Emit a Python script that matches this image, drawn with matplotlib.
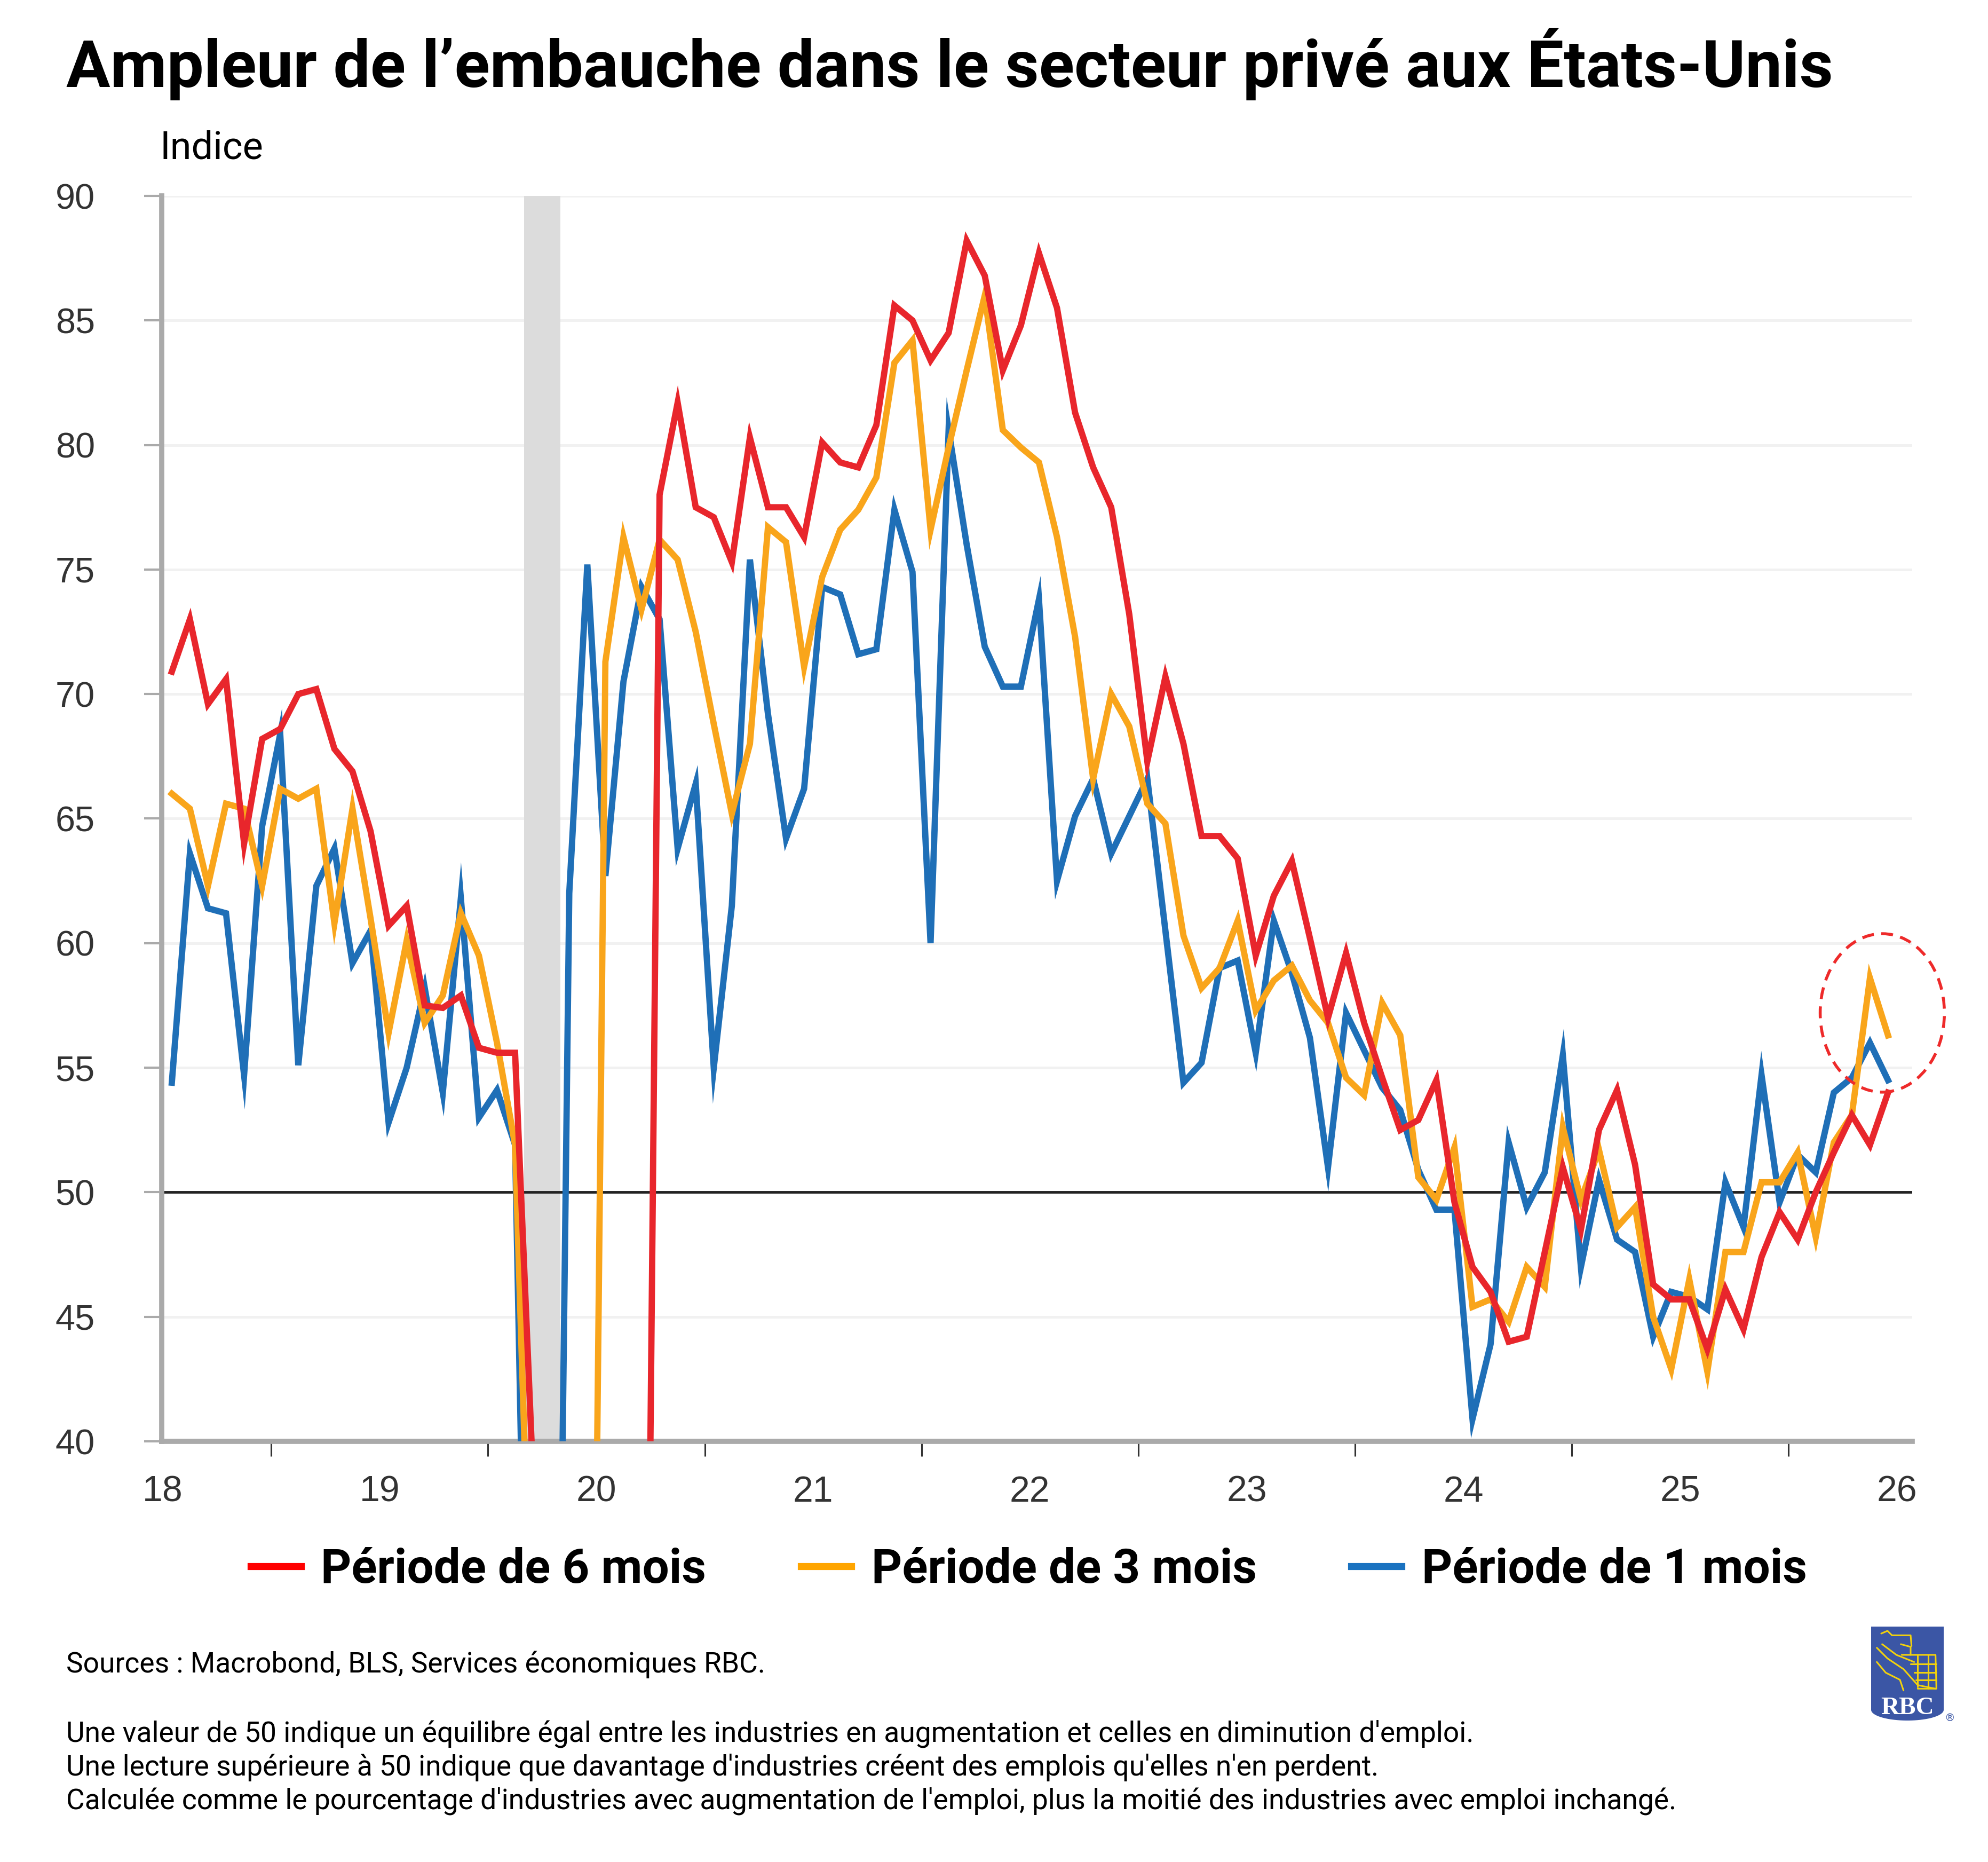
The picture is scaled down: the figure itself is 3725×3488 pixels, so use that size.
import numpy as np
import pandas as pd
import matplotlib
matplotlib.use('Agg')
import matplotlib.pyplot as plt
from matplotlib.patches import Ellipse, Polygon
from matplotlib.lines import Line2D
from matplotlib.font_manager import FontProperties

# monthly diffusion index readings, Jul 2018 -> Jun 2026
first_month = '2018-07'

six_month = [70.9, 73.0, 69.6, 70.6, 64.0, 68.2, 68.6, 70.0, 70.2, 67.8, 66.9, 64.5,
             60.7, 61.5, 57.5, 57.4, 57.9, 55.8, 55.6, 55.6, 38.5, 12.0, 8.0, 6.0,
             5.0, 4.0, 3.0, 78.0, 81.7, 77.5, 77.1, 75.3, 80.3, 77.5, 77.5, 76.3,
             80.1, 79.3, 79.1, 80.8, 85.6, 85.0, 83.4, 84.5, 88.2, 86.8, 83.0, 84.8,
             87.7, 85.5, 81.3, 79.1, 77.5, 73.2, 67.3, 70.7, 68.0, 64.3, 64.3, 63.4,
             59.5, 61.9, 63.3, 60.2, 57.0, 59.6, 56.8, 54.6, 52.5, 52.9, 54.5, 49.6,
             47.0, 46.0, 44.0, 44.2, 47.6, 51.0, 48.5, 52.5, 54.1, 51.1, 46.3, 45.7,
             45.7, 43.7, 46.1, 44.5, 47.4, 49.2, 48.1, 50.0, 51.6, 53.1, 51.9, 54.0]

three_month = [66.0, 65.4, 62.3, 65.6, 65.4, 62.3, 66.2, 65.8, 66.2, 60.8, 65.4, 61.0,
               56.4, 60.1, 56.8, 57.9, 61.2, 59.5, 56.0, 51.9, 29.0, 8.0, 4.0, 2.0,
               71.3, 76.3, 73.4, 76.2, 75.4, 72.5, 68.8, 65.2, 68.0, 76.7, 76.1, 71.1,
               74.7, 76.6, 77.4, 78.7, 83.3, 84.2, 76.6, 79.9, 83.0, 86.0, 80.6, 79.9,
               79.3, 76.3, 72.3, 66.6, 70.0, 68.7, 65.6, 64.8, 60.3, 58.2, 59.0, 60.9,
               57.3, 58.5, 59.1, 57.7, 56.8, 54.6, 53.9, 57.6, 56.3, 50.6, 49.7, 51.8,
               45.4, 45.7, 44.8, 47.0, 46.2, 52.6, 49.7, 51.7, 48.6, 49.4, 45.0, 42.9,
               46.5, 42.8, 47.6, 47.6, 50.4, 50.4, 51.6, 48.2, 52.0, 53.1, 58.6, 56.3]

one_month = [54.4, 63.6, 61.4, 61.2, 54.7, 64.7, 68.4, 55.1, 62.3, 63.8, 59.2, 60.5,
             52.8, 55.0, 58.2, 54.0, 61.8, 53.0, 54.1, 51.9, 15.0, 2.0, 62.0, 75.2,
             62.7, 70.5, 74.3, 73.0, 63.8, 66.4, 55.0, 61.5, 75.4, 69.2, 64.2, 66.2,
             74.3, 74.0, 71.6, 71.8, 77.4, 74.9, 60.0, 80.6, 76.0, 71.9, 70.3, 70.3,
             73.8, 62.5, 65.1, 66.6, 63.6, 65.1, 66.6, 60.5, 54.4, 55.2, 59.0, 59.3,
             55.6, 60.9, 58.8, 56.2, 51.0, 57.2, 55.7, 54.2, 53.3, 50.9, 49.3, 49.3,
             40.9, 43.9, 52.0, 49.4, 50.8, 55.5, 47.0, 50.5, 48.1, 47.6, 44.2, 46.0,
             45.8, 45.3, 50.4, 48.6, 54.7, 49.6, 51.5, 50.8, 54.0, 54.6, 56.0, 54.5]

recession = ('2020-03', '2020-05')
year_labels = ['18', '19', '20', '21', '22', '23', '24', '25', '26']
series_names = ['Période de 6 mois', 'Période de 3 mois', 'Période de 1 mois']

RED, ORANGE, BLUE = '#e8262c', '#f9a51b', '#1f6fb7'


def to_year(p):
    return p.year + (p.month - 0.5) / 12.0


months = pd.period_range(first_month, periods=len(one_month), freq='M')
x = np.array([to_year(p) for p in months])

W, H = 3725, 3488
fig = plt.figure(figsize=(W / 100, H / 100), dpi=100)
ax = fig.add_axes([303 / W, 1 - 2700 / H, (3583 - 303) / W, (2700 - 367) / H])

ax.set_xlim(2018.495, 2026.57)
ax.set_ylim(40, 90)

# recession shading
r0 = pd.Period(recession[0], 'M')
r1 = pd.Period(recession[1], 'M')
ax.axvspan(r0.year + (r0.month - 1) / 12, r1.year + (r1.month - 1) / 12,
           color='#dcdcdc', lw=0, zorder=1)

ax.set_yticks(np.arange(40, 91, 5))
ax.yaxis.grid(True, color='#f1f1f1', lw=3.5)
ax.set_axisbelow(True)
ax.axhline(50, color='#222222', lw=3.5, zorder=2)

ax.plot(x, one_month, color=BLUE, lw=8.5, zorder=3, solid_joinstyle='miter')
ax.plot(x, three_month, color=ORANGE, lw=8.5, zorder=4, solid_joinstyle='miter')
ax.plot(x, six_month, color=RED, lw=8.5, zorder=5, solid_joinstyle='miter')

# dashed ring around the latest readings
ring = Ellipse((2026.432, 57.2), 0.573, 6.36, fill=False, edgecolor='#ee2a2a',
               lw=4, linestyle=(0, (4, 2.5)), clip_on=False, zorder=6)
ax.add_patch(ring)

for s in ['top', 'right']:
    ax.spines[s].set_visible(False)
for s in ['left', 'bottom']:
    ax.spines[s].set_color('#aaaaaa')
    ax.spines[s].set_linewidth(7)

ax.set_xticks(np.arange(2019, 2027))
ax.set_xticklabels([])
ax.set_xticks(np.arange(2018.5, 2027), minor=True)
ax.set_xticklabels(year_labels, minor=True)
ax.tick_params(axis='x', which='major', length=20, width=2.2, color='#333333')
ax.tick_params(axis='x', which='minor', length=0, pad=45, labelsize=49,
               labelcolor='#333333')
ax.tick_params(axis='y', length=24, width=3, color='#aaaaaa', pad=66,
               labelsize=48, labelcolor='#333333')
for lab in ax.get_xticklabels(minor=True) + ax.get_yticklabels():
    lab.set_family('Liberation Sans')

fig.text(124 / W, 1 - 163 / H, "Ampleur de l\u2019embauche dans le secteur privé aux États-Unis",
         family='Roboto', weight='bold', size=88.3, va='baseline')
fig.text(300 / W, 1 - 298 / H, 'Indice', family='Roboto', size=52, va='baseline')

handles = [Line2D([], [], color='#ff0000', lw=9.5),
           Line2D([], [], color='#ffa500', lw=9.5),
           Line2D([], [], color='#1a72c0', lw=9.5)]
fig.legend(handles, series_names, ncol=3, loc='center', bbox_to_anchor=(0.5175, 0.1570),
           frameon=False, prop=FontProperties(family='Roboto', weight='bold', size=64),
           handlelength=1.06, handletextpad=0.42, columnspacing=2.0)

foot = dict(family='Roboto', size=38.4, va='baseline')
fig.text(124 / W, 1 - 3133 / H, 'Sources : Macrobond, BLS, Services économiques RBC.', **foot)
notes = ["Une valeur de 50 indique un équilibre égal entre les industries en augmentation et celles en diminution d'emploi.",
         "Une lecture supérieure à 50 indique que davantage d'industries créent des emplois qu'elles n'en perdent.",
         "Calculée comme le pourcentage d'industries avec augmentation de l'emploi, plus la moitié des industries avec emploi inchangé."]
for k, line in enumerate(notes):
    fig.text(124 / W, 1 - (3262 + 63 * k) / H, line, **foot)

# RBC shield
lg = fig.add_axes([3506 / W, 1 - 3223 / H, 136 / W, 176 / H])
lg.set_xlim(0, 136)
lg.set_ylim(0, 176)
lg.axis('off')
t = np.linspace(0, np.pi, 40)
lg.add_patch(Polygon(np.vstack([[[136, 176], [0, 176], [0, 20]],
                                np.column_stack([68 - 68 * np.cos(t), 20 - 20 * np.sin(t)]),
                                [[136, 20]]]),
                     closed=True, color='#3b56a5', lw=0))


def zl(pts):
    a = np.array(pts, dtype=float)
    return a[:, 0] / 3 - 126, 223 - a[:, 1] / 3


yel = dict(color='#f3d20c', lw=2.2, solid_capstyle='round')
for stroke in [[(435, 180), (470, 165), (495, 190), (600, 190), (605, 250)],
               [(545, 240), (600, 255), (600, 300)],
               [(440, 240), (520, 300), (620, 340)],
               [(410, 260), (470, 320), (560, 380), (640, 470), (740, 490)],
               [(410, 340), (460, 400), (540, 440), (560, 500)],
               [(550, 300), (740, 300), (745, 490), (640, 490)],
               [(640, 300), (640, 480)], [(700, 300), (700, 490)],
               [(600, 350), (745, 350)], [(620, 400), (745, 400)], [(630, 440), (745, 440)]]:
    lg.plot(*zl(stroke), **yel)
lg.text(68, 12, 'RBC', color='white', family='Liberation Serif', weight='bold',
        size=34, ha='center', va='baseline')
fig.text(3653 / W, 1 - 3218 / H, '\u00ae', color='#3b56a5', size=14, ha='center', va='center')

fig.savefig('out.png', dpi=100, facecolor='white')
